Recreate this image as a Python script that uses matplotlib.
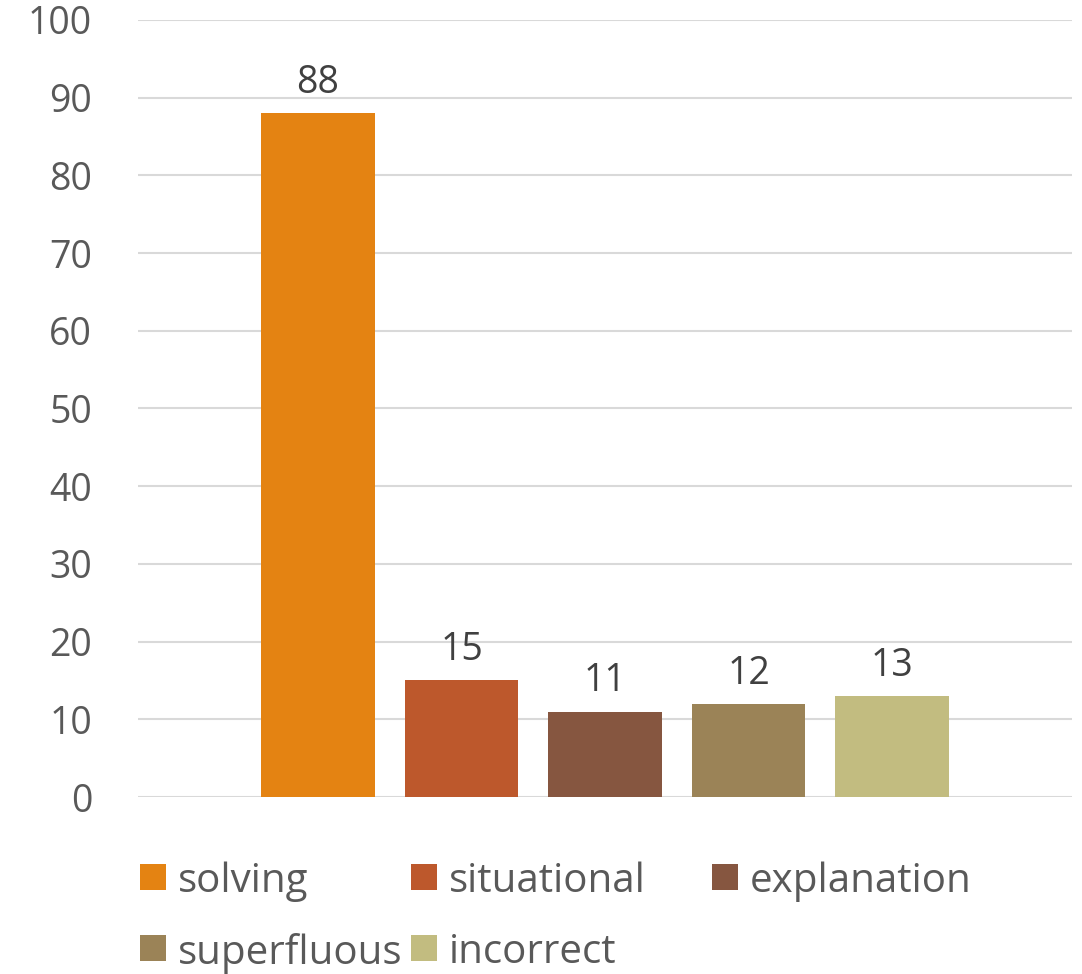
import matplotlib
matplotlib.use("Agg")
import matplotlib.pyplot as plt
from matplotlib.patches import Rectangle

# === DATA ===
categories = ["solving", "situational", "explanation", "superfluous", "incorrect"]
values = [88, 15, 11, 12, 13]
colors = ["#E48312", "#BD582C", "#865640", "#9B8357", "#C2BC80"]
yticks = [0, 10, 20, 30, 40, 50, 60, 70, 80, 90, 100]

plt.rcParams["font.family"] = ["Open Sans", "DejaVu Sans"]

W, H = 1082, 974
fig = plt.figure(figsize=(W / 100, H / 100), dpi=100)
ax = fig.add_axes([0.1275, 0.1817, 0.8633, 0.7978])

pos = list(range(len(categories)))
bars = ax.bar(pos, values, width=0.79, color=colors, zorder=3)

for b, v in zip(bars, values):
    ax.annotate(str(v), (b.get_x() + b.get_width() / 2, v), xytext=(0, 8),
                textcoords="offset points", ha="center", va="bottom",
                fontsize=27, color="#404040")

ax.set_xlim(-1.254, 5.254)
ax.set_ylim(0, 100)
ax.set_yticks(yticks)
ax.set_xticks([])
ax.tick_params(axis="y", length=0, pad=33, labelsize=27, labelcolor="#595959")
ax.grid(axis="y", color="#D9D9D9", linewidth=1.5, zorder=0)
for s in ax.spines.values():
    s.set_visible(False)

# legend laid out row by row, like the original (3 per row)
col_x = [140, 411, 712]
row_y = [877, 948]
sq = 26
for i, (name, c) in enumerate(zip(categories, colors)):
    cx = col_x[i % 3]
    cy = row_y[i // 3]
    fig.patches.append(Rectangle(((cx) / W, (H - cy - sq / 2) / H), sq / W, sq / H,
                                 transform=fig.transFigure, facecolor=c,
                                 edgecolor="none"))
    fig.text((cx + 38) / W, (H - cy) / H, name, fontsize=29, color="#595959",
             ha="left", va="center_baseline")

fig.savefig("out.png", dpi=100)
